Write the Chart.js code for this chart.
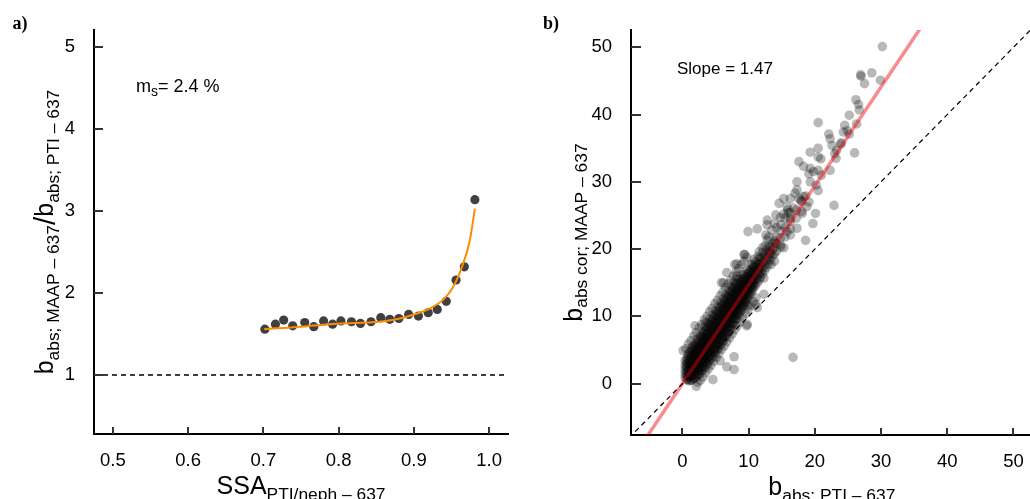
<!DOCTYPE html>
<html>
<head>
<meta charset="utf-8">
<script src="https://cdn.jsdelivr.net/npm/chart.js@4.4.0/dist/chart.umd.min.js"></script>
<style>
  html, body { margin: 0; padding: 0; background: #fff; width: 1030px; height: 499px; overflow: hidden; }
  .panel { position: absolute; top: 0; width: 520px; height: 499px; }
</style>
</head>
<body>
<div class="panel" style="left:0"><canvas id="chartA" width="520" height="499"></canvas></div>
<div class="panel" style="left:520px"><canvas id="chartB" width="520" height="499"></canvas></div>
<script>
// ---------------- panel a) : ratio vs SSA
var ssaValues   = [0.702, 0.716, 0.727, 0.739, 0.755, 0.767, 0.780, 0.792, 0.803, 0.817, 0.829, 0.843,
                   0.856, 0.868, 0.880, 0.893, 0.906, 0.919, 0.931, 0.943, 0.956, 0.967, 0.981];
var ratioValues = [1.56, 1.62, 1.67, 1.60, 1.64, 1.59, 1.66, 1.62, 1.66, 1.65, 1.63, 1.65,
                   1.70, 1.68, 1.69, 1.74, 1.72, 1.76, 1.80, 1.90, 2.16, 2.32, 3.14];
// fitted curve
var fitSsa   = [0.701, 0.750, 0.788, 0.820, 0.855, 0.886, 0.904, 0.921, 0.939, 0.952, 0.965, 0.974, 0.981];
var fitRatio = [1.56, 1.59, 1.62, 1.635, 1.65, 1.70, 1.75, 1.81, 1.92, 2.07, 2.35, 2.63, 3.03];
var refRatio = 1;
var xTicksA = [0.5, 0.6, 0.7, 0.8, 0.9, 1.0];
var yTicksA = [1, 2, 3, 4, 5];

// ---------------- panel b) : MAAP vs PTI
var slopeText = 'Slope = 1.47';
var regLine = [[-10, -14.7], [40, 58.8]];
var oneToOne = [[-10, -10], [60, 60]];
var xTicksB = [0, 10, 20, 30, 40, 50];
var yTicksB = [0, 10, 20, 30, 40, 50];
// dense core of the cloud: [PTI, [MAAP values]]
var coreColumns = [
  [0.4, [0.9, 1.5, 2.1, 2.7, 3.4]],
  [0.6, [0.6, 1.2, 1.8, 2.4, 3.0, 3.7]],
  [0.8, [0.6, 1.2, 1.8, 2.4, 3.0, 3.6, 4.3]],
  [1.0, [0.4, 1.0, 1.6, 2.2, 2.8, 3.4, 4.0, 4.6]],
  [1.2, [0.5, 1.1, 1.7, 2.3, 2.9, 3.5, 4.1, 4.8]],
  [1.4, [0.5, 1.1, 1.7, 2.3, 2.9, 3.5, 4.1, 4.7, 5.3]],
  [1.6, [0.7, 1.3, 1.9, 2.5, 3.1, 3.7, 4.3, 4.9, 5.5]],
  [1.8, [0.8, 1.4, 2.0, 2.6, 3.2, 3.8, 4.4, 5.0, 5.7]],
  [2.0, [0.9, 1.6, 2.2, 2.8, 3.4, 4.0, 4.6, 5.2, 5.9]],
  [2.2, [1.1, 1.7, 2.3, 2.9, 3.5, 4.1, 4.7, 5.3, 5.9, 6.6]],
  [2.4, [1.4, 2.0, 2.7, 3.3, 3.9, 4.5, 5.1, 5.7, 6.4]],
  [2.6, [1.4, 2.0, 2.6, 3.2, 3.8, 4.4, 5.0, 5.6, 6.2, 7.0]],
  [2.8, [1.9, 2.5, 3.2, 3.8, 4.4, 5.0, 5.6, 6.3, 7.0]],
  [3.0, [1.9, 2.6, 3.2, 3.9, 4.5, 5.1, 5.8, 6.4, 7.0, 7.7]],
  [3.2, [2.4, 3.1, 3.7, 4.3, 4.9, 5.5, 6.2, 6.8, 7.5]],
  [3.4, [2.4, 3.1, 3.8, 4.4, 5.1, 5.7, 6.4, 7.0, 7.7, 8.4]],
  [3.6, [2.9, 3.6, 4.2, 4.9, 5.5, 6.1, 6.8, 7.4, 8.1]],
  [3.8, [2.9, 3.6, 4.3, 5.0, 5.6, 6.3, 6.9, 7.6, 8.3, 9.0]],
  [4.0, [3.4, 4.1, 4.8, 5.4, 6.0, 6.7, 7.3, 8.0, 8.7]],
  [4.2, [3.5, 4.2, 4.9, 5.6, 6.2, 6.9, 7.5, 8.2, 8.9, 9.6]],
  [4.4, [4.0, 4.7, 5.3, 6.0, 6.6, 7.2, 7.9, 8.6, 9.3]],
  [4.6, [4.0, 4.7, 5.4, 6.1, 6.8, 7.4, 8.1, 8.8, 9.5, 10.2]],
  [4.8, [4.5, 5.2, 5.9, 6.5, 7.2, 7.8, 8.5, 9.2, 9.9]],
  [5.0, [4.6, 5.3, 6.0, 6.7, 7.4, 8.0, 8.7, 9.4, 10.1, 10.8]],
  [5.2, [5.1, 5.8, 6.5, 7.1, 7.8, 8.4, 9.1, 9.8, 10.5]],
  [5.4, [5.2, 5.9, 6.6, 7.3, 8.0, 8.6, 9.3, 10.0, 10.7, 11.4]],
  [5.6, [5.7, 6.4, 7.1, 7.7, 8.4, 9.0, 9.7, 10.4, 11.1]],
  [5.8, [5.8, 6.5, 7.2, 7.9, 8.6, 9.2, 9.9, 10.6, 11.3, 12.0]],
  [6.0, [6.3, 7.0, 7.7, 8.3, 9.0, 9.6, 10.3, 11.0, 11.7]],
  [6.2, [6.4, 7.1, 7.8, 8.5, 9.2, 9.8, 10.5, 11.2, 11.9, 12.6]],
  [6.4, [6.9, 7.6, 8.3, 8.9, 9.6, 10.2, 10.9, 11.6, 12.3]],
  [6.6, [7.0, 7.7, 8.4, 9.1, 9.8, 10.4, 11.1, 11.8, 12.5, 13.2]],
  [6.8, [7.5, 8.2, 8.9, 9.5, 10.2, 10.8, 11.5, 12.2, 12.9]],
  [7.0, [7.7, 8.4, 9.1, 9.7, 10.4, 11.0, 11.7, 12.4, 13.1, 13.8]],
  [7.2, [8.2, 8.9, 9.5, 10.2, 10.8, 11.5, 12.1, 12.8, 13.5]],
  [7.4, [8.3, 9.0, 9.7, 10.3, 11.0, 11.7, 12.3, 13.0, 13.7, 14.4]],
  [7.6, [8.8, 9.5, 10.1, 10.8, 11.4, 12.1, 12.7, 13.4, 14.1]],
  [7.8, [9.0, 9.7, 10.3, 11.0, 11.6, 12.3, 12.9, 13.6, 14.3, 15.0]],
  [8.0, [9.5, 10.1, 10.8, 11.4, 12.0, 12.7, 13.3, 14.0, 14.7]],
  [8.2, [9.7, 10.4, 11.0, 11.7, 12.3, 12.9, 13.6, 14.2, 14.9, 15.5]],
  [8.4, [10.2, 10.8, 11.4, 12.0, 12.7, 13.3, 13.9, 14.6]],
  [8.6, [10.4, 11.1, 11.7, 12.3, 13.0, 13.6, 14.2, 14.9, 15.6]],
  [8.8, [10.8, 11.4, 12.1, 12.7, 13.3, 13.9, 14.6, 15.2]],
  [9.0, [11.1, 11.7, 12.4, 13.0, 13.6, 14.2, 14.9, 15.5, 16.2]],
  [9.2, [11.5, 12.1, 12.7, 13.3, 13.9, 14.5, 15.2, 15.8]],
  [9.4, [11.8, 12.4, 13.0, 13.7, 14.3, 14.9, 15.5, 16.2]],
  [9.6, [12.2, 12.8, 13.4, 14.0, 14.6, 15.2, 15.9]],
  [9.8, [12.5, 13.1, 13.7, 14.4, 15.0, 15.6, 16.3, 16.9]],
  [10.0, [12.9, 13.5, 14.1, 14.7, 15.3, 15.9, 16.6]],
  [10.2, [13.3, 13.9, 14.5, 15.1, 15.7, 16.4, 17.0]],
  [10.4, [13.6, 14.2, 14.8, 15.4, 16.0, 16.7]],
  [10.6, [14.0, 14.6, 15.2, 15.8, 16.4, 17.1, 17.7]],
  [10.8, [14.3, 14.9, 15.5, 16.1, 16.8, 17.4]],
  [11.0, [14.6, 15.3, 16.0, 16.7, 17.4, 18.1]],
  [11.3, [15.0, 15.7, 16.4, 17.1, 17.8]],
  [11.6, [15.4, 16.2, 16.9, 17.7, 18.5]],
  [11.8, [15.8, 16.5, 17.3, 18.0, 18.8]],
  [12.1, [16.3, 17.1, 17.9, 18.7, 19.5]],
  [12.4, [16.8, 17.6, 18.4, 19.2]],
  [12.7, [17.3, 18.2, 19.0, 19.9]],
  [13.0, [17.8, 18.7, 19.6, 20.4]],
  [13.3, [18.4, 19.3, 20.3]],
  [13.6, [19.0, 19.9, 20.8]],
  [13.9, [19.3, 20.3, 21.3]],
  [14.2, [19.7, 20.8, 21.8]],
  [14.8, [20.6, 21.6, 22.7]],
  [15.5, [21.8, 23.2, 24.6]],
  [16.3, [23.0, 24.5, 25.4]],
  [17.2, [24.6, 25.8]],
  [18.0, [25.6, 27.1]]
];
// fringe of the core, above and below it
var fringePoints = [
  [0.5,5.2],[0.9,5.9],[1.3,6.4],[1.7,7.1],[2.1,7.6],[2.5,8.3],[2.9,8.8],[3.3,9.5],[3.7,10.0],
  [4.1,10.7],[4.5,11.2],[4.9,11.9],[5.3,12.4],[5.7,13.1],[6.1,13.6],[6.5,14.3],[6.9,14.8],
  [7.3,15.4],[7.7,16.0],[8.1,16.6],[8.5,17.1],[8.9,17.7],[9.3,18.2],[9.7,18.8],
  [2.3,0.2],[2.7,0.5],[3.1,1.0],[3.5,1.6],[3.9,2.2],[4.3,2.7],[4.7,3.3],[5.1,3.9],[5.5,4.5],
  [5.9,5.1],[6.3,5.6],[6.7,6.2],[7.1,6.8],[7.5,7.4],[7.9,8.0],[8.3,8.6],[8.7,9.2],[9.1,9.8],
  [9.5,10.4],[9.9,11.0],[10.3,11.6],[10.7,12.2],[11.1,12.8]
];
// scattered points around the core
var sparsePoints = [
  [30.2,50.1],[26.9,45.9],[27.0,45.7],[28.6,46.2],[27.5,44.6],[29.9,45.1],[26.2,42.2],[26.6,41.5],
  [26.7,40.7],[25.2,39.9],[26.3,38.6],[20.5,38.8],[24.5,38.4],[24.9,37.6],[24.3,37.4],[25.2,37.1],
  [22.1,37.1],[22.3,36.4],[22.6,35.4],[23.9,35.6],[26.0,34.3],[23.3,34.7],[23.0,34.2],[19.3,34.4],
  [20.5,35.0],[20.5,33.7],[20.9,33.4],[17.6,33.0],[18.3,32.3],[19.3,32.0],[20.5,31.7],[22.3,31.7],
  [19.1,31.2],[17.3,30.0],[19.3,30.0],[20.5,28.7],[17.3,28.8],[16.3,27.5],[17.6,27.5],[18.3,27.8],
  [19.1,27.0],[15.3,27.5],[14.6,26.8],[22.9,26.5],[15.8,26.3],[16.8,26.1],[18.8,26.3],[20.1,25.3],
  [18.1,25.3],[14.1,25.1],[15.3,25.2],[16.3,24.1],[19.7,23.8],[12.8,24.3],[13.9,23.8],[14.9,23.6],
  [17.3,23.1],[15.8,22.6],[9.9,22.6],[11.3,23.0],[12.6,22.1],[16.3,22.1],[18.6,21.3],[12.8,21.4],
  [14.9,20.3],[15.3,20.2],[9.4,19.2],[11.4,18.9],[13.9,18.2],[13.4,17.7],[7.9,17.7],[10.4,17.7],
  [6.7,16.5],[8.2,16.0],[12.3,15.7],[5.9,15.0],[12.3,13.3],[9.9,11.6],[9.8,8.8],[7.8,4.0],
  [6.7,2.5],[7.8,2.1],[16.7,3.9],[4.6,0.6],[2.1,-0.4],[0.1,4.9],[1.9,8.6],[5.7,3.4],
  [9.7,8.6],[11.3,11.3],[6.2,15.0],[9.3,19.2],[12.8,23.6],[8.2,17.8],[3.5,9.1],[11.1,11.8],
  [17.0,28.3],[17.9,27.2],[18.6,27.9],[15.9,25.8],[14.8,24.7],[16.0,25.4],[13.5,22.8],[14.2,23.2],
  [12.5,20.5],[13.0,21.8],[14.0,21.0],[11.6,19.6],[12.1,20.2],[10.8,18.5],[11.5,17.4],[13.2,19.4],
  [20.2,29.5],[21.0,31.0],[19.8,31.5],[24.0,35.8],[23.2,33.5]
];

var FONT = "'Liberation Sans', Arial, Helvetica, sans-serif";

function toXY(xs, ys) {
  var out = [];
  for (var i = 0; i < xs.length; i++) out.push({x: xs[i], y: ys[i]});
  return out;
}

var cloud = [];
coreColumns.forEach(function (c) {
  c[1].forEach(function (v) { cloud.push({x: c[0], y: v}); });
});
fringePoints.concat(sparsePoints).forEach(function (p) { cloud.push({x: p[0], y: p[1]}); });

// ---- helpers
function drawRich(ctx, parts, x, y, angle) {
  ctx.save();
  ctx.translate(x, y);
  ctx.rotate(angle || 0);
  var total = 0;
  parts.forEach(function (p) {
    ctx.font = (p.bold ? 'bold ' : '') + p.size + 'px ' + (p.family || FONT);
    p.w = ctx.measureText(p.text).width;
    total += p.w;
  });
  var cx = parts.align === 'left' ? 0 : -total / 2;
  ctx.fillStyle = '#000';
  ctx.textBaseline = 'alphabetic';
  ctx.textAlign = 'left';
  parts.forEach(function (p) {
    ctx.font = (p.bold ? 'bold ' : '') + p.size + 'px ' + (p.family || FONT);
    ctx.fillText(p.text, cx, p.dy || 0);
    cx += p.w;
  });
  ctx.restore();
}

// tick marks pointing inside the plot
function inwardTicks(xLen, yLen) {
  return {
    id: 'inwardTicks',
    afterDraw: function (chart) {
      var ctx = chart.ctx, a = chart.chartArea;
      var sx = chart.scales.x, sy = chart.scales.y;
      ctx.save();
      ctx.strokeStyle = '#333';
      ctx.lineWidth = 2;
      ctx.beginPath();
      sx.ticks.forEach(function (t) {
        var px = Math.round(sx.getPixelForValue(t.value));
        ctx.moveTo(px, a.bottom); ctx.lineTo(px, a.bottom - xLen);
      });
      sy.ticks.forEach(function (t) {
        var py = Math.round(sy.getPixelForValue(t.value));
        ctx.moveTo(a.left, py); ctx.lineTo(a.left + yLen, py);
      });
      ctx.stroke();
      ctx.restore();
    }
  };
}

function axisOpts(min, max, tickList, fit, pad, fmt) {
  return {
    type: 'linear', min: min, max: max,
    afterBuildTicks: function (s) { s.ticks = tickList.map(function (v) { return {value: v}; }); },
    afterFit: fit,
    grid: {display: false, drawTicks: false},
    border: {display: true, color: '#000', width: 2},
    ticks: {color: '#000', font: {family: FONT, size: 18.5}, padding: pad,
            maxRotation: 0, autoSkip: false, callback: fmt}
  };
}

// ---------------- chart a
var textA = {
  id: 'textA',
  afterDraw: function (chart) {
    var ctx = chart.ctx, a = chart.chartArea;
    var cx = (a.left + a.right) / 2, cy = (a.top + a.bottom) / 2;
    drawRich(ctx, [{text: 'a)', size: 18, bold: true, family: "'Liberation Serif', 'Times New Roman', serif"}], 20, 29);
    drawRich(ctx, [{text: 'SSA', size: 25}, {text: 'PTI/neph \u2013 637', size: 17.4, dy: 5.5}], cx, 494);
    drawRich(ctx, [{text: 'b', size: 25}, {text: 'abs; MAAP \u2013 637', size: 17.4, dy: 5.5},
                   {text: '/', size: 30, dy: 2}, {text: 'b', size: 25},
                   {text: 'abs; PTI \u2013 637', size: 17.4, dy: 5.5}], 53, cy, -Math.PI / 2);
    var ms = [{text: 'm', size: 18}, {text: 's', size: 14, dy: 3.5}, {text: '= 2.4 %', size: 18}];
    ms.align = 'left';
    drawRich(ctx, ms, 136, 92);
  }
};

new Chart(document.getElementById('chartA'), {
  type: 'scatter',
  data: {
    datasets: [
      {type: 'line', data: toXY(fitSsa, fitRatio), borderColor: '#ff8c00', borderWidth: 2,
       pointRadius: 0, fill: false, cubicInterpolationMode: 'monotone'},
      {type: 'line', data: [{x: 0.475, y: refRatio}, {x: 1.025, y: refRatio}], borderColor: '#000',
       borderWidth: 1.5, borderDash: [5, 4], pointRadius: 0, fill: false},
      {data: toXY(ssaValues, ratioValues), backgroundColor: '#404040', borderWidth: 0, pointRadius: 4.6}
    ]
  },
  options: {
    responsive: false, animation: false, events: [],
    layout: {padding: {top: 27, right: 12, left: 0, bottom: 0}},
    plugins: {legend: {display: false}, tooltip: {enabled: false}},
    scales: {
      x: axisOpts(0.475, 1.025, xTicksA, function (s) { s.height = 65; }, 16, function (v) { return v.toFixed(1); }),
      y: axisOpts(0.28, 5.21, yTicksA, function (s) { s.width = 94; }, 19, function (v) { return v; })
    }
  },
  plugins: [inwardTicks(7, 9), textA]
});

// ---------------- chart b
var textB = {
  id: 'textB',
  afterDraw: function (chart) {
    var ctx = chart.ctx, a = chart.chartArea;
    var cx = (a.left + a.right) / 2, cy = (a.top + a.bottom) / 2;
    drawRich(ctx, [{text: 'b)', size: 18, bold: true, family: "'Liberation Serif', 'Times New Roman', serif"}], 31, 29);
    drawRich(ctx, [{text: 'b', size: 25}, {text: 'abs; PTI \u2013 637', size: 17.4, dy: 5.5}], cx, 495);
    drawRich(ctx, [{text: 'b', size: 25}, {text: 'abs cor; MAAP \u2013 637', size: 17.4, dy: 5.5}], 61.5, cy, -Math.PI / 2);
    var sl = [{text: slopeText, size: 17}];
    sl.align = 'left';
    drawRich(ctx, sl, 157, 74);
  }
};

new Chart(document.getElementById('chartB'), {
  type: 'scatter',
  data: {
    datasets: [
      {type: 'line', data: oneToOne.map(function (p) { return {x: p[0], y: p[1]}; }), borderColor: '#000',
       borderWidth: 1.2, borderDash: [5, 4], pointRadius: 0, fill: false},
      {type: 'line', data: regLine.map(function (p) { return {x: p[0], y: p[1]}; }),
       borderColor: 'rgba(240,0,0,0.45)', borderWidth: 3.5, pointRadius: 0, fill: false},
      {data: cloud, backgroundColor: 'rgba(0,0,0,0.28)', borderWidth: 0, pointRadius: 4.8}
    ]
  },
  options: {
    responsive: false, animation: false, events: [],
    layout: {padding: {top: 27, right: 1, left: 0, bottom: 0}},
    plugins: {legend: {display: false}, tooltip: {enabled: false}},
    scales: {
      x: axisOpts(-7.77, 52.9, xTicksB, function (s) { s.height = 64; }, 16, function (v) { return v; }),
      y: axisOpts(-7.63, 52.55, yTicksB, function (s) { s.width = 111; }, 19, function (v) { return v; })
    }
  },
  plugins: [inwardTicks(7, 10), textB]
});
</script>
</body>
</html>
